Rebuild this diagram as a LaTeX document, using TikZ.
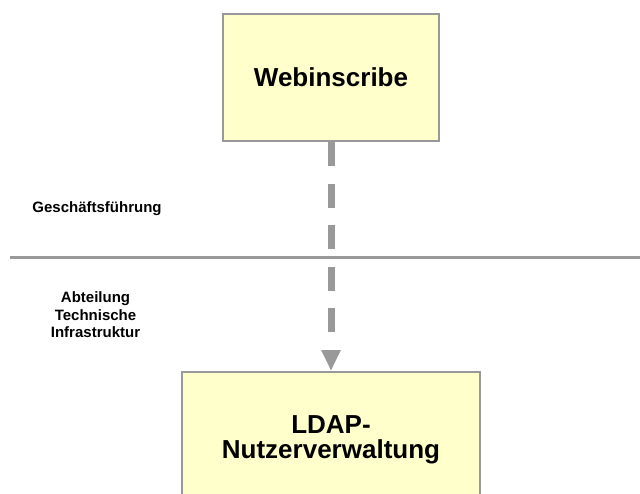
\documentclass[tikz,border=0pt]{standalone}
\usepackage{fontspec}
\setmainfont{Liberation Sans}
\usetikzlibrary{arrows.meta}
\definecolor{boxfill}{HTML}{FFFFCC}
\definecolor{frame}{HTML}{999999}
\begin{document}
\begin{tikzpicture}[x=1pt,y=-1pt,
  procbox/.style={draw=frame, line width=2pt, fill=boxfill,
    font=\bfseries\fontsize{26}{25}\selectfont, align=center, inner sep=0pt},
  lanelabel/.style={font=\bfseries\fontsize{15}{17.3}\selectfont,
    align=center, inner sep=0pt},
  flow/.style={draw=frame, line width=7pt, dash pattern=on 24pt off 17.6pt,
    -{Triangle[width=18pt,length=21pt]}},
  divider/.style={draw=frame, line width=3pt}]
\useasboundingbox (0,0) rectangle (640,493);
\clip (0,0) rectangle (640,493);

% lane divider
\coordinate (dl) at (10,257);
\coordinate (dr) at (640,257);
\draw[divider] (dl) -- (dr);

% lane labels (base anchor sits on the last line)
\node[lanelabel, anchor=base] (gf) at (97,212.7) {Geschäftsführung};
\node[lanelabel, anchor=base] (ati) at (95.5,337.3) {Abteilung\\Technische\\Infrastruktur};

% systems
\node[procbox, minimum width=216pt, minimum height=127pt] (web) at (331,77.5) {Webinscribe};
\node[procbox, minimum width=298pt, minimum height=136pt] (ldap) at (331,440) {LDAP-\\Nutzerverwaltung};

% data flow
\draw[flow] (web.south) -- (ldap.north);
\end{tikzpicture}
\end{document}
